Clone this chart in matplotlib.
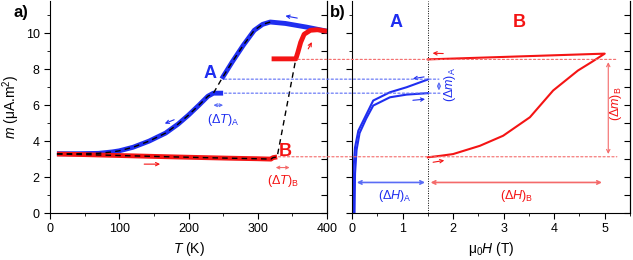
import numpy as np
import matplotlib.pyplot as plt
from matplotlib.patches import ConnectionPatch
from matplotlib.ticker import MultipleLocator

plt.rcParams['font.family'] = ['Liberation Sans', 'DejaVu Sans']
plt.rcParams['mathtext.fontset'] = 'custom'
plt.rcParams['mathtext.rm'] = 'Liberation Sans'
plt.rcParams['mathtext.it'] = 'Liberation Sans:italic'

BLUE = '#1f2ef0'
RED = '#f41414'
LBLUE = '#5a6cf5'
LRED = '#f46a6a'

# panel a: m(T)
# blue (A), cooling branch, lower part and upper part
T_a_low = [10, 40, 70, 90, 100, 120, 143, 167, 185, 200, 215, 228, 236, 250]
m_a_low = [3.30, 3.30, 3.32, 3.40, 3.46, 3.66, 4.00, 4.45, 4.95, 5.45, 6.00, 6.50, 6.67, 6.67]
T_a_up = [248, 263, 279, 295, 307, 318, 340, 370, 400]
m_a_up = [7.47, 8.40, 9.33, 10.17, 10.50, 10.63, 10.55, 10.35, 10.12]
# red (B), heating branch
T_b_low = [10, 50, 100, 150, 214, 260, 300, 319, 322, 328]
m_b_low = [3.28, 3.25, 3.20, 3.15, 3.09, 3.05, 3.02, 3.00, 3.08, 3.12]
T_b_up = [320, 340, 355, 358, 362, 367, 376, 386, 400]
m_b_up = [8.58, 8.58, 8.58, 8.95, 9.50, 9.95, 10.17, 10.20, 10.12]

# panel b: m(H)
H_a_up = [0.02, 0.027, 0.06, 0.125, 0.257, 0.42, 0.75, 1.08, 1.5]
m_a_up_h = [0.0, 2.35, 3.65, 4.58, 5.33, 6.26, 6.72, 7.00, 7.43]
H_a_low = [0.05, 0.06, 0.09, 0.15, 0.28, 0.42, 0.75, 1.08, 1.5]
m_a_low_h = [0.0, 2.2, 3.5, 4.45, 5.25, 5.98, 6.44, 6.59, 6.67]
H_b = [1.5, 1.74, 2.0, 2.53, 2.99, 3.52, 3.98, 4.47, 4.74, 5.0, 1.5]
m_b_h = [3.10, 3.18, 3.28, 3.74, 4.30, 5.33, 6.82, 7.93, 8.40, 8.87, 8.55]

# step levels
mA_low, mA_high = 6.67, 7.45
mB_low, mB_high = 3.13, 8.55

fig = plt.figure(figsize=(6.33, 2.6), dpi=100)
ax1 = fig.add_axes([50 / 633, 47 / 260, 277 / 633, 212 / 260])
ax2 = fig.add_axes([352 / 633, 47 / 260, 278 / 633, 212 / 260])

for ax in (ax1, ax2):
    ax.set_ylim(0, 11.8)
    ax.spines['top'].set_visible(False)
    ax.tick_params(which='both', direction='out', labelsize=9)
    ax.tick_params(which='major', length=4)
    ax.tick_params(which='minor', length=2.5)
    ax.yaxis.set_major_locator(MultipleLocator(2))
    ax.yaxis.set_minor_locator(MultipleLocator(1))
    # inward ticks on the right spine, one per unit
    sec = ax.secondary_yaxis('right')
    sec.yaxis.set_major_locator(MultipleLocator(1))
    sec.tick_params(direction='in', length=4, labelright=False)

# ---- panel a
ax1.set_xlim(0, 400)
ax1.xaxis.set_major_locator(MultipleLocator(100))
ax1.xaxis.set_minor_locator(MultipleLocator(50))
ax1.plot(T_a_low, m_a_low, color=BLUE, lw=3.5, solid_capstyle='butt')
ax1.plot(T_a_up, m_a_up, color=BLUE, lw=3.5, solid_capstyle='butt')
ax1.plot(T_b_low, m_b_low, color=RED, lw=3.5, solid_capstyle='butt')
ax1.plot(T_b_up, m_b_up, color=RED, lw=3.5, solid_capstyle='butt')
# guide to the eye
ax1.plot(T_a_low[:-1] + T_a_up[:6], m_a_low[:-1] + m_a_up[:6],
         color='k', lw=1, ls=(0, (4, 3)))
ax1.plot(T_b_low + T_b_up[2:3], m_b_low + m_b_up[2:3],
         color='k', lw=1, ls=(0, (4, 3)))

arr = dict(arrowstyle='->', lw=0.8, mutation_scale=6)
ax1.annotate('', xy=(336, 11.0), xytext=(361, 10.82), arrowprops=dict(arr, color=BLUE))
ax1.annotate('', xy=(162, 4.92), xytext=(183, 5.25), arrowprops=dict(arr, color=BLUE))
ax1.annotate('', xy=(163, 2.72), xytext=(132, 2.72), arrowprops=dict(arr, color=RED))
ax1.annotate('', xy=(380, 9.65), xytext=(371, 9.0), arrowprops=dict(arr, color=RED))

ax1.text(231, 7.75, 'A', color=BLUE, fontsize=13, fontweight='bold', ha='center', va='center')
ax1.text(339, 3.45, 'B', color=RED, fontsize=13, fontweight='bold', ha='center', va='center')
ax1.annotate('', xy=(232, 6.0), xytext=(254, 6.0),
             arrowprops=dict(arrowstyle='<->', color=LBLUE, lw=0.8, mutation_scale=5))
ax1.text(250, 5.2, r'$(\Delta T)_\mathregular{A}$', color=BLUE, fontsize=9, ha='center', va='center')
ax1.annotate('', xy=(322, 2.53), xytext=(350, 2.53),
             arrowprops=dict(arrowstyle='<->', color=LRED, lw=0.8, mutation_scale=5))
ax1.text(337, 1.8, r'$(\Delta T)_\mathregular{B}$', color=RED, fontsize=9, ha='center', va='center')

ax1.set_xlabel(r'$T$ (K)', fontsize=10, labelpad=3)
ax1.set_ylabel(r'$m$ ($\mathregular{\mu}$A.m$^\mathregular{2}$)', fontsize=10)
ax1.yaxis.set_label_coords(-0.1, 0.5)

# ---- panel b
ax2.set_xlim(0, 5.5)
ax2.xaxis.set_major_locator(MultipleLocator(1))
ax2.xaxis.set_minor_locator(MultipleLocator(0.5))
ax2.tick_params(axis='y', labelleft=False)
ax2.axvline(1.5, color='k', lw=0.7, ls=(0, (1, 1.5)))
ax2.plot(H_a_up, m_a_up_h, color=BLUE, lw=1.5)
ax2.plot(H_a_low, m_a_low_h, color=BLUE, lw=1.5)
ax2.plot(H_b, m_b_h, color=RED, lw=1.5)

ax2.annotate('', xy=(1.15, 7.45), xytext=(1.48, 7.6), arrowprops=dict(arr, color=BLUE))
ax2.annotate('', xy=(1.5, 6.35), xytext=(1.15, 6.26), arrowprops=dict(arr, color=BLUE))
ax2.annotate('', xy=(1.54, 8.9), xytext=(1.86, 8.87), arrowprops=dict(arr, color=RED))
ax2.annotate('', xy=(1.88, 2.95), xytext=(1.55, 2.8), arrowprops=dict(arr, color=RED))

ax2.text(0.88, 10.6, 'A', color=BLUE, fontsize=13, fontweight='bold', ha='center', va='center')
ax2.text(3.3, 10.6, 'B', color=RED, fontsize=13, fontweight='bold', ha='center', va='center')

ax2.annotate('', xy=(1.72, mA_low), xytext=(1.72, mA_high),
             arrowprops=dict(arrowstyle='<->', color=LBLUE, lw=0.8, mutation_scale=5))
ax2.text(1.93, 7.15, r'$(\Delta m)_\mathregular{A}$', color=BLUE, fontsize=9,
         rotation=90, ha='center', va='center')
ax2.annotate('', xy=(5.07, mB_low), xytext=(5.07, mB_high),
             arrowprops=dict(arrowstyle='<->', color=LRED, lw=0.8, mutation_scale=6))
ax2.text(5.22, 6.1, r'$(\Delta m)_\mathregular{B}$', color=RED, fontsize=9,
         rotation=90, ha='center', va='center')
ax2.annotate('', xy=(0.04, 1.7), xytext=(1.5, 1.7),
             arrowprops=dict(arrowstyle='<->', color=LBLUE, lw=1.2, mutation_scale=6))
ax2.text(0.85, 0.95, r'$(\Delta H)_\mathregular{A}$', color=BLUE, fontsize=9, ha='center', va='center')
ax2.annotate('', xy=(1.5, 1.7), xytext=(5.0, 1.7),
             arrowprops=dict(arrowstyle='<->', color=LRED, lw=1.2, mutation_scale=6))
ax2.text(3.25, 0.95, r'$(\Delta H)_\mathregular{B}$', color=RED, fontsize=9, ha='center', va='center')

ax2.set_xlabel(r'$\mathregular{\mu_0}$$H$ (T)', fontsize=10, labelpad=3)

# dotted levels running across both panels
levels = [(mA_high, 252, 1.72, LBLUE), (mA_low, 252, 1.74, LBLUE),
          (mB_high, 358, 5.24, LRED), (mB_low, 330, 5.24, LRED)]
for m, t0, h1, c in levels:
    con = ConnectionPatch(xyA=(t0, m), coordsA=ax1.transData,
                          xyB=(h1, m), coordsB=ax2.transData,
                          color=c, lw=0.8, ls=(0, (2, 2)))
    fig.add_artist(con)

fig.text(21 / 633, 1 - 13 / 260, 'a)', fontsize=12, fontweight='bold', ha='center', va='center')
fig.text(338 / 633, 1 - 13 / 260, 'b)', fontsize=12, fontweight='bold', ha='center', va='center')

fig.savefig('out.png', dpi=100)
